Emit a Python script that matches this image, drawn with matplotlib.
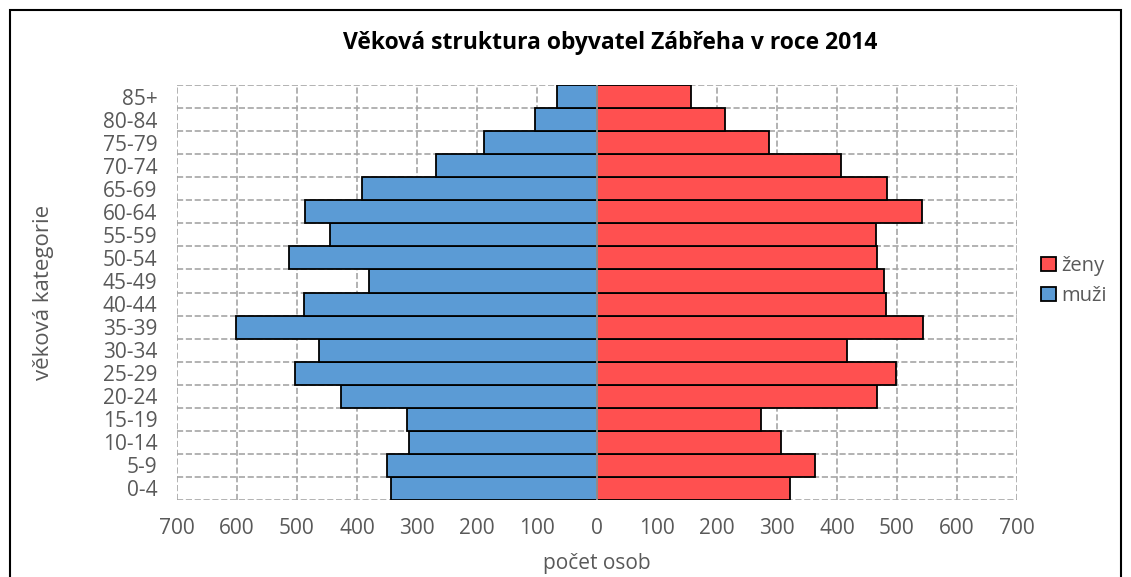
import matplotlib.pyplot as plt
from matplotlib.patches import Rectangle
from matplotlib.ticker import FuncFormatter, MultipleLocator

# age groups from youngest to oldest
categories = ['0-4', '5-9', '10-14', '15-19', '20-24', '25-29', '30-34', '35-39',
              '40-44', '45-49', '50-54', '55-59', '60-64', '65-69', '70-74',
              '75-79', '80-84', '85+']
muzi = [344, 350, 314, 316, 426, 503, 464, 601, 488, 380, 514, 445, 487, 392,
        269, 188, 104, 66]
zeny = [322, 363, 307, 274, 466, 499, 417, 543, 482, 479, 466, 465, 542, 484,
        406, 286, 213, 156]

color_muzi = '#5B9BD5'
color_zeny = '#FF5050'
text_gray = '#595959'

plt.rcParams['font.family'] = ['Open Sans', 'DejaVu Sans']

fig = plt.figure(figsize=(11.31, 5.77), dpi=100)
ax = fig.add_axes([177 / 1131, 1 - 500 / 577, (1017 - 177) / 1131, (500 - 85) / 577])

y = range(len(categories))
ax.barh(y, zeny, height=1.0, color=color_zeny, edgecolor='black', linewidth=1.3,
        label='ženy', zorder=3)
ax.barh(y, [-v for v in muzi], height=1.0, color=color_muzi, edgecolor='black',
        linewidth=1.3, label='muži', zorder=3)
ax.axvline(0, color='#A6A6A6', linewidth=1.2, zorder=4)

ax.set_xlim(-700, 700)
ax.set_ylim(-0.5, len(categories) - 0.5)
ax.xaxis.set_major_locator(MultipleLocator(100))
ax.xaxis.set_major_formatter(FuncFormatter(lambda v, p: f'{abs(int(round(v)))}'))
ax.set_yticks(list(y))
ax.set_yticklabels(categories)
ax.set_yticks([i - 0.5 for i in range(len(categories) + 1)], minor=True)

ax.grid(True, axis='x', which='major', linestyle='--', color='#A6A6A6', linewidth=1.2, zorder=0)
ax.grid(True, axis='y', which='minor', linestyle='--', color='#A6A6A6', linewidth=1.2, zorder=0)
ax.grid(False, axis='y', which='major')
for s in ax.spines.values():
    s.set_visible(False)
ax.tick_params(axis='both', which='both', length=0, labelsize=15, colors=text_gray)
ax.tick_params(axis='x', pad=13)
ax.tick_params(axis='y', pad=14)

ax.set_xlabel('počet osob', fontsize=15, color=text_gray)
ax.xaxis.set_label_coords(0.5, -(563 - 500) / 415)
ax.xaxis.label.set_va('center')
ax.set_ylabel('věková kategorie', fontsize=16, color=text_gray)
ax.yaxis.set_label_coords(-(177 - 44) / 840, (500 - 292) / 415)
ax.yaxis.label.set_va('center')

fig.text(610 / 1131, 1 - 43 / 577, 'Věková struktura obyvatel Zábřeha v roce 2014',
         ha='center', va='center', fontsize=16.5, fontweight='bold', color='black')

handles, labels = ax.get_legend_handles_labels()
fig.legend(handles, labels, loc='center left', bbox_to_anchor=(1041 / 1131, 1 - 281 / 577),
           frameon=False, fontsize=14.5, labelcolor=text_gray, handlelength=0.75,
           handleheight=0.75, handletextpad=0.25, labelspacing=0.5, borderaxespad=0,
           borderpad=0)

# chart border
fig.patches.append(Rectangle((10 / 1131, -0.01), 1111 / 1131, 1 - 10 / 577 + 0.01,
                             transform=fig.transFigure, fill=False,
                             edgecolor='black', linewidth=1.5))

fig.savefig('out.png', dpi=100)
